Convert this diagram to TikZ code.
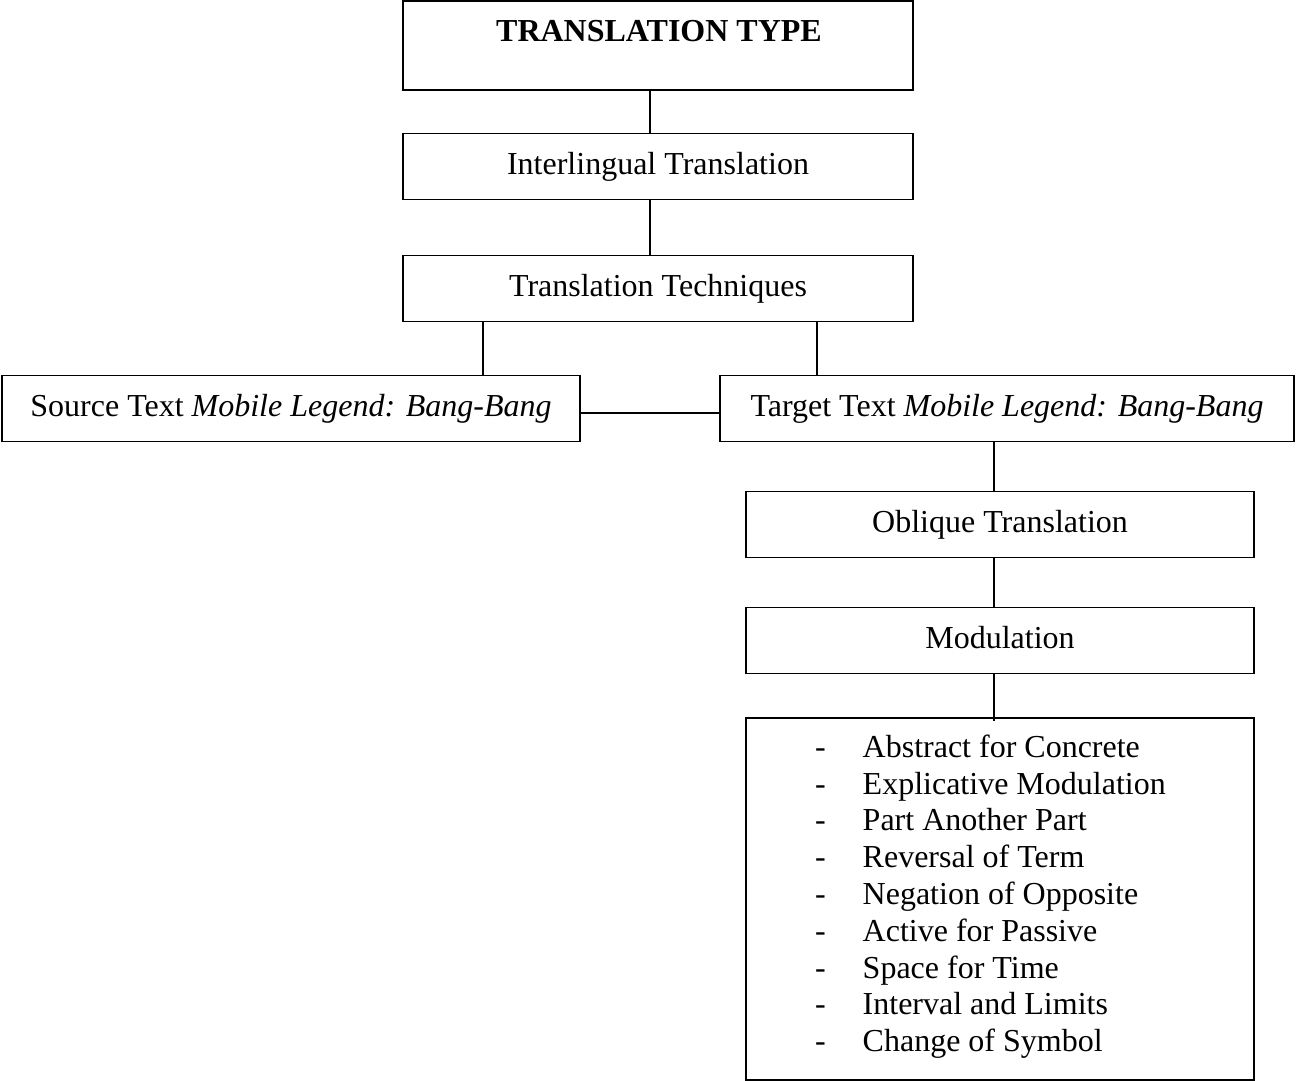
\documentclass[tikz,border=0pt]{standalone}
\usepackage{fontspec}
\setmainfont{Liberation Serif}
\begin{document}
\begin{tikzpicture}[x=1pt,y=-1pt,
  box/.style={draw, line width=1.8pt, inner sep=0pt, text height=22pt, text depth=7pt,
    font=\fontsize{32}{36.8}\selectfont, align=center},
  txt/.style={inner sep=0pt, font=\fontsize{32}{36.8}\selectfont},
  conn/.style={line width=1.8pt}]
\useasboundingbox (0,0) rectangle (1296,1081);
\node[box, minimum width=510pt, minimum height=89pt] (type) at (658,45.5) {};
\node[txt, anchor=base, font=\fontsize{32}{36.8}\selectfont\bfseries] (typetxt) at (659,41.7) {TRANSLATION TYPE};
\node[box, minimum width=510pt, minimum height=66pt] (inter) at (658,166.5) {Interlingual Translation};
\node[box, minimum width=510pt, minimum height=66pt] (tech) at (658,288.5) {Translation Techniques};
\node[box, minimum width=578pt, minimum height=66pt] (src) at (291,408.5) {Source Text \textit{Mobile Legend: Bang-Bang}};
\node[box, minimum width=574pt, minimum height=66pt] (tgt) at (1007,408.5) {Target Text \textit{Mobile Legend: Bang-Bang}};
\node[box, minimum width=508pt, minimum height=66pt] (obl) at (1000,524.5) {Oblique Translation};
\node[box, minimum width=508pt, minimum height=66pt] (mod) at (1000,640.5) {Modulation};
\node[box, minimum width=508pt, minimum height=362pt] (list) at (1000,899) {};
\foreach \t [count=\i] in {Abstract for Concrete, Explicative Modulation, Part Another Part,
  Reversal of Term, Negation of Opposite, Active for Passive, Space for Time,
  Interval and Limits, Change of Symbol}{
  \node[txt, anchor=base west] (dash\i) at (815,{757.3+36.8*(\i-1)}) {-};
  \node[txt, anchor=base west] (item\i) at (862.5,{757.3+36.8*(\i-1)}) {\t};
}
\draw[conn] (type.south -| 650,0) -- (inter.north -| 650,0);
\draw[conn] (inter.south -| 650,0) -- (tech.north -| 650,0);
\draw[conn] (tech.south -| 483,0) -- (src.north -| 483,0);
\draw[conn] (tech.south -| 817,0) -- (tgt.north -| 817,0);
\draw[conn] (src.east |- 0,413) -- (tgt.west |- 0,413);
\draw[conn] (tgt.south -| 994,0) -- (obl.north -| 994,0);
\draw[conn] (obl.south -| 994,0) -- (mod.north -| 994,0);
\draw[conn] (mod.south -| 994,0) -- ([yshift=-4pt]list.north -| 994,0);
\end{tikzpicture}
\end{document}
